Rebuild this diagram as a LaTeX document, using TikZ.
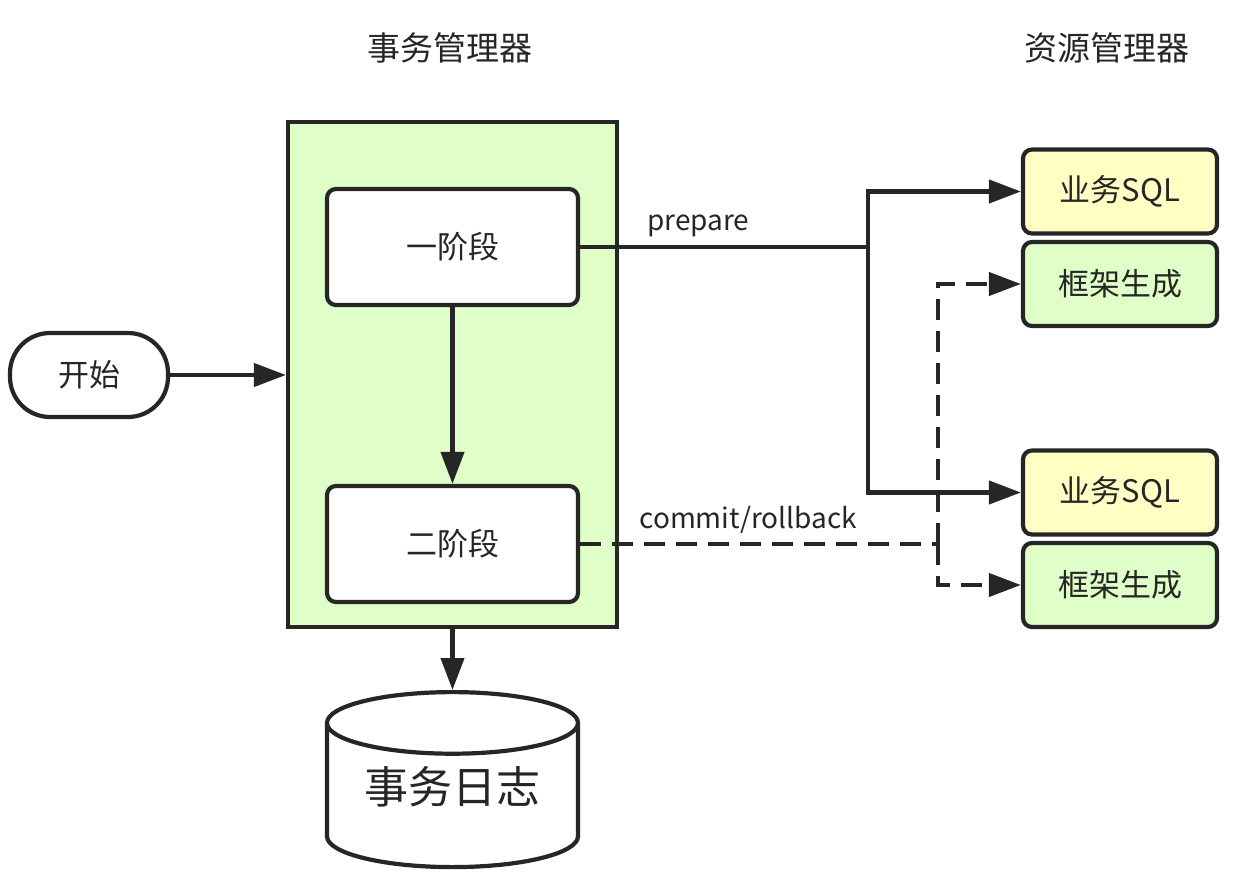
\documentclass[tikz,border=0pt]{standalone}
\usepackage{fontspec}
\setmainfont{Noto Sans CJK SC}
\usetikzlibrary{arrows.meta, shapes.geometric}
\definecolor{garisgelap}{RGB}{38,38,38}
\definecolor{hijaumuda}{RGB}{224,255,200}
\definecolor{kuningmuda}{RGB}{255,255,196}

\begin{document}
\begin{tikzpicture}[x=1pt, y=-1pt, line width=4.2pt, text=garisgelap,
        judul/.style={font=\fontsize{33}{38}\selectfont},
        tahap/.style={draw=garisgelap, fill=white, rounded corners=9pt, inner sep=0pt,
                      minimum width=251pt, minimum height=116pt, font=\fontsize{31}{36}\selectfont},
        sumber/.style={draw=garisgelap, rounded corners=9pt, inner sep=0pt,
                       minimum width=194pt, minimum height=84pt, font=\fontsize{31}{36}\selectfont},
        panah/.style={draw=garisgelap, -{Triangle[length=32pt, width=23pt]}},
        putus/.style={dash pattern=on 21pt off 11pt},
        ket/.style={font=\fontsize{28}{32}\selectfont, inner sep=8pt}
    ]
        \useasboundingbox (0,0) rectangle (1250,896);

        \node[judul] (tm) at (450,48)  {事务管理器};
        \node[judul] (rm) at (1107,48) {资源管理器};

        \node[draw=garisgelap, fill=hijaumuda, inner sep=0pt,
              minimum width=329pt, minimum height=505pt] (tmbox) at (452.5,374.5) {};
        \node[tahap] (satu) at (452.5,247) {一阶段};
        \node[tahap] (dua)  at (452.5,544) {二阶段};

        \node[draw=garisgelap, fill=white, rounded corners=40pt, inner sep=0pt,
              minimum width=158pt, minimum height=84pt,
              font=\fontsize{31}{36}\selectfont] (mulai) at (89,375) {开始};

        \node[cylinder, shape border rotate=90, aspect=0.35, draw=garisgelap, fill=white,
              inner sep=0pt, minimum width=251pt, minimum height=175pt, anchor=top,
              font=\fontsize{44}{50}\selectfont] (log) at (452.5,690) {\raisebox{22pt}{事务日志}};

        \node[sumber, fill=kuningmuda] (sql1) at (1120,191.5) {业务SQL};
        \node[sumber, fill=hijaumuda]  (kj1)  at (1120,284)   {框架生成};
        \node[sumber, fill=kuningmuda] (sql2) at (1120,492.5) {业务SQL};
        \node[sumber, fill=hijaumuda]  (kj2)  at (1120,585)   {框架生成};

        \coordinate (cabang1) at (868,247);
        \coordinate (cabang2) at (938,544);

        \draw[panah] (mulai.east) -- (tmbox.west |- mulai.east);
        \draw[panah] (satu) -- (dua);
        \draw[panah] (tmbox.south) -- (log.top);

        \draw[garisgelap] (satu.east) -- node[ket, pos=0.41, above] {prepare} (cabang1);
        \draw[panah] (cabang1) |- (sql1.west);
        \draw[panah] (cabang1) |- (sql2.west);

        \draw[garisgelap, putus] (dua.east) -- node[ket, pos=0.47, above] {commit/rollback} (cabang2);
        \draw[panah, putus] (cabang2) |- (kj1.west);
        \draw[panah, putus] (cabang2) |- (kj2.west);
    \end{tikzpicture}
\end{document}
